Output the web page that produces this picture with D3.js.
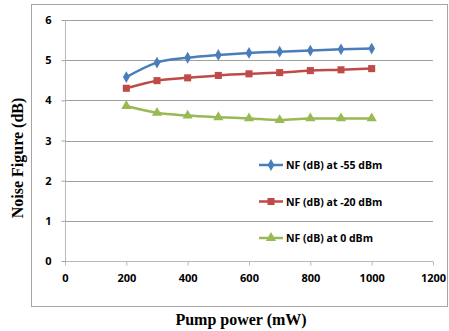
<!DOCTYPE html>
<html>
<head>
<meta charset="utf-8">
<script src="https://cdn.jsdelivr.net/npm/d3@7"></script>
<style>
  body { margin: 0; background: #fff; }
  .tick text { font-family: "Open Sans", "DejaVu Sans", sans-serif; font-weight: bold; font-size: 11px; fill: #000; }
  .aTitle { font-family: "Liberation Serif", serif; font-weight: bold; font-size: 16px; }
  .legText { font-family: "Open Sans", sans-serif; font-weight: bold; font-size: 10.5px; }
</style>
</head>
<body>
<div id="chart"></div>
<script>
// chart data
var pumpPower = [200, 300, 400, 500, 600, 700, 800, 900, 1000];
var nf55 = [4.58, 4.94, 5.06, 5.13, 5.18, 5.21, 5.24, 5.27, 5.29];
var nf20 = [4.30, 4.49, 4.56, 4.62, 4.66, 4.69, 4.74, 4.76, 4.79];
var nf0 = [3.86, 3.69, 3.62, 3.58, 3.55, 3.51, 3.55, 3.55, 3.55];
var seriesNames = ["NF (dB) at -55 dBm", "NF (dB) at -20 dBm", "NF (dB) at 0 dBm"];
var xTicks = [0, 200, 400, 600, 800, 1000, 1200];
var yTicks = [0, 1, 2, 3, 4, 5, 6];

var width = 449;
var height = 331;

var svg = d3.select("#chart")
    .append("svg")
    .attr("width", width)
    .attr("height", height);

// outer chart frame
svg.append("rect")
    .attr("x", 31.5)
    .attr("y", 4.5)
    .attr("width", 416)
    .attr("height", 302)
    .attr("fill", "none")
    .attr("stroke", "#a6a6a6");

var xScale = d3.scaleLinear().domain([0, 1200]).range([65, 433]);
var yScale = d3.scaleLinear().domain([0, 6]).range([261, 20]);

// gridlines
svg.append("g")
    .selectAll("line")
    .data(yTicks.slice(1))
    .enter()
    .append("line")
    .attr("x1", 65)
    .attr("x2", 433)
    .attr("y1", function(d) { return Math.round(yScale(d)) + 0.5; })
    .attr("y2", function(d) { return Math.round(yScale(d)) + 0.5; })
    .attr("stroke", "#a0a0a0");

// axes
var xAxis = d3.axisBottom(xScale).tickValues(xTicks).tickFormat(d3.format("d")).tickSize(4).tickPadding(9);
var yAxis = d3.axisLeft(yScale).tickValues(yTicks).tickFormat(d3.format("d")).tickSize(4).tickPadding(10);

var gx = svg.append("g")
    .attr("transform", "translate(0," + 261.5 + ")")
    .call(xAxis);
gx.select(".domain").attr("stroke", "#b8b8b8").attr("d", "M65,0H433");
gx.selectAll(".tick line").attr("stroke", "#b8b8b8");

var gy = svg.append("g")
    .attr("transform", "translate(65.5,0)")
    .call(yAxis);
gy.select(".domain").attr("stroke", "#b8b8b8").attr("d", "M0,20V261");
gy.selectAll(".tick line").attr("stroke", "#a0a0a0");

// axis titles
svg.append("text")
    .attr("class", "aTitle")
    .attr("x", 241)
    .attr("y", 325)
    .attr("text-anchor", "middle")
    .text("Pump power (mW)");

svg.append("text")
    .attr("class", "aTitle")
    .attr("transform", "translate(23,158)rotate(-90)")
    .attr("text-anchor", "middle")
    .text("Noise Figure (dB)");

// series
var series = [
  { name: seriesNames[0], values: nf55, color: "#4a7ebb", shape: d3.symbolDiamond, size: 40 },
  { name: seriesNames[1], values: nf20, color: "#be4b48", shape: d3.symbolSquare, size: 50 },
  { name: seriesNames[2], values: nf0, color: "#98b954", shape: d3.symbolTriangle, size: 45 }
];

var line = d3.line()
    .x(function(d) { return xScale(d[0]); })
    .y(function(d) { return yScale(d[1]); })
    .curve(d3.curveMonotoneX);

series.forEach(function(s) {
  var pts = pumpPower.map(function(p, i) { return [p, s.values[i]]; });
  svg.append("path")
      .datum(pts)
      .attr("d", line)
      .attr("fill", "none")
      .attr("stroke", s.color)
      .attr("stroke-width", 2.5);

  svg.selectAll(null)
      .data(pts)
      .enter()
      .append("path")
      .attr("d", d3.symbol().type(s.shape).size(s.size))
      .attr("transform", function(d) {
        return "translate(" + xScale(d[0]) + "," + yScale(d[1]) + ")";
      })
      .attr("fill", s.color);
});

// legend
var legend = svg.append("g");
series.forEach(function(s, i) {
  var ly = 165 + i * 36.5;
  legend.append("line")
      .attr("x1", 259)
      .attr("x2", 283)
      .attr("y1", ly)
      .attr("y2", ly)
      .attr("stroke", s.color)
      .attr("stroke-width", 2.5);
  legend.append("path")
      .attr("d", d3.symbol().type(s.shape).size(s.size))
      .attr("transform", "translate(271," + ly + ")")
      .attr("fill", s.color);
  legend.append("text")
      .attr("class", "legText")
      .attr("x", 286)
      .attr("y", ly + 4)
      .text(s.name);
});
</script>
</body>
</html>
